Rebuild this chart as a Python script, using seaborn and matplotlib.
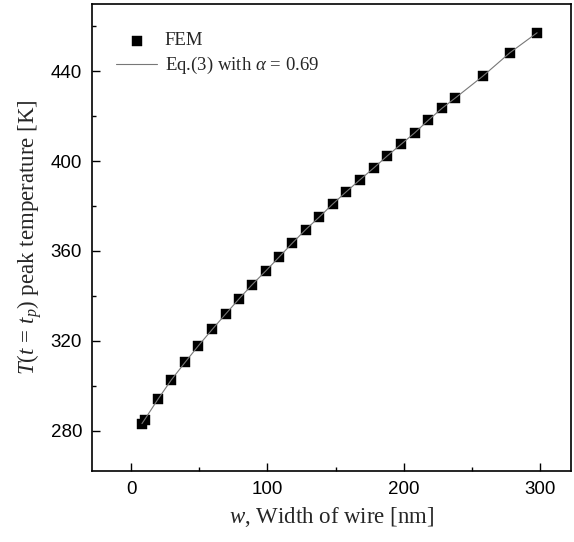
import numpy as np
import pandas as pd
import seaborn as sns
import matplotlib.pyplot as plt
from matplotlib.ticker import MultipleLocator

# data
width_nm = [7.8, 9.8, 19.5, 29.3, 39.5, 49.3, 59.5, 69.3, 79.2, 88.8, 98.8, 108.6, 118.3,
            128.1, 138.1, 148.0, 158.0, 168.0, 178.0, 188.0, 198.0, 208.0, 218.0, 228.0,
            238.0, 258.0, 278.0, 298.0]
temp_K = [283.1, 284.9, 293.9, 302.5, 310.4, 317.8, 325.1, 331.9, 338.7, 345.0, 351.1, 357.3,
          363.5, 369.5, 375.1, 380.9, 386.4, 391.7, 396.9, 402.3, 407.4, 412.5, 418.1, 423.4,
          428.1, 437.7, 448.2, 457.1]

df = pd.DataFrame({"w": width_nm, "T": temp_K})

sns.set_style("ticks")
plt.rcParams['font.family'] = ['serif']
plt.rcParams['font.serif'] = ['Liberation Serif']
plt.rcParams['mathtext.fontset'] = 'custom'
plt.rcParams['mathtext.rm'] = 'Liberation Serif'
plt.rcParams['mathtext.it'] = 'Liberation Serif:italic'

fig = plt.figure(figsize=(5.74, 5.42), dpi=100)
ax = fig.add_axes([0.160, 0.131, 0.835, 0.862])

# Eq.(3) fit line
sns.lineplot(data=df, x="w", y="T", ax=ax, color="#777777", linewidth=0.8,
             label=r"Eq.(3) with $\alpha\,=\,0.69$", zorder=3)
# FEM points
sns.scatterplot(data=df, x="w", y="T", ax=ax, marker="s", s=62, color="black",
                edgecolor="black", linewidth=0.3, label="FEM", zorder=2)

ax.set_xlim(-29, 323)
ax.set_ylim(262, 470)
ax.xaxis.set_major_locator(MultipleLocator(100))
ax.xaxis.set_minor_locator(MultipleLocator(50))
ax.yaxis.set_major_locator(MultipleLocator(40))
ax.yaxis.set_minor_locator(MultipleLocator(20))
ax.tick_params(which="both", direction="in", width=1, colors="black")
ax.tick_params(which="major", length=6, labelsize=13.5, pad=7)
ax.tick_params(which="minor", length=3)
for lab in ax.get_xticklabels() + ax.get_yticklabels():
    lab.set_family("Liberation Sans")

for sp in ax.spines.values():
    sp.set_visible(True)
    sp.set_linewidth(1.2)
    sp.set_color("black")

ax.set_xlabel(r"$w$, Width of wire [nm]", fontsize=16.5, labelpad=5)
ax.set_ylabel(r"$T(t\,=\,t_p)$ peak temperature [K]", fontsize=16.5, labelpad=5)

handles, labels = ax.get_legend_handles_labels()
order = [labels.index("FEM"), 1 - labels.index("FEM")]
ax.legend([handles[i] for i in order], [labels[i] for i in order], loc="upper left",
          frameon=False, prop={"size": 13.5},
          bbox_to_anchor=(0.015, 0.975), handlelength=2.2, handletextpad=0.4,
          labelspacing=0.3)

fig.savefig("out.png", dpi=100)
